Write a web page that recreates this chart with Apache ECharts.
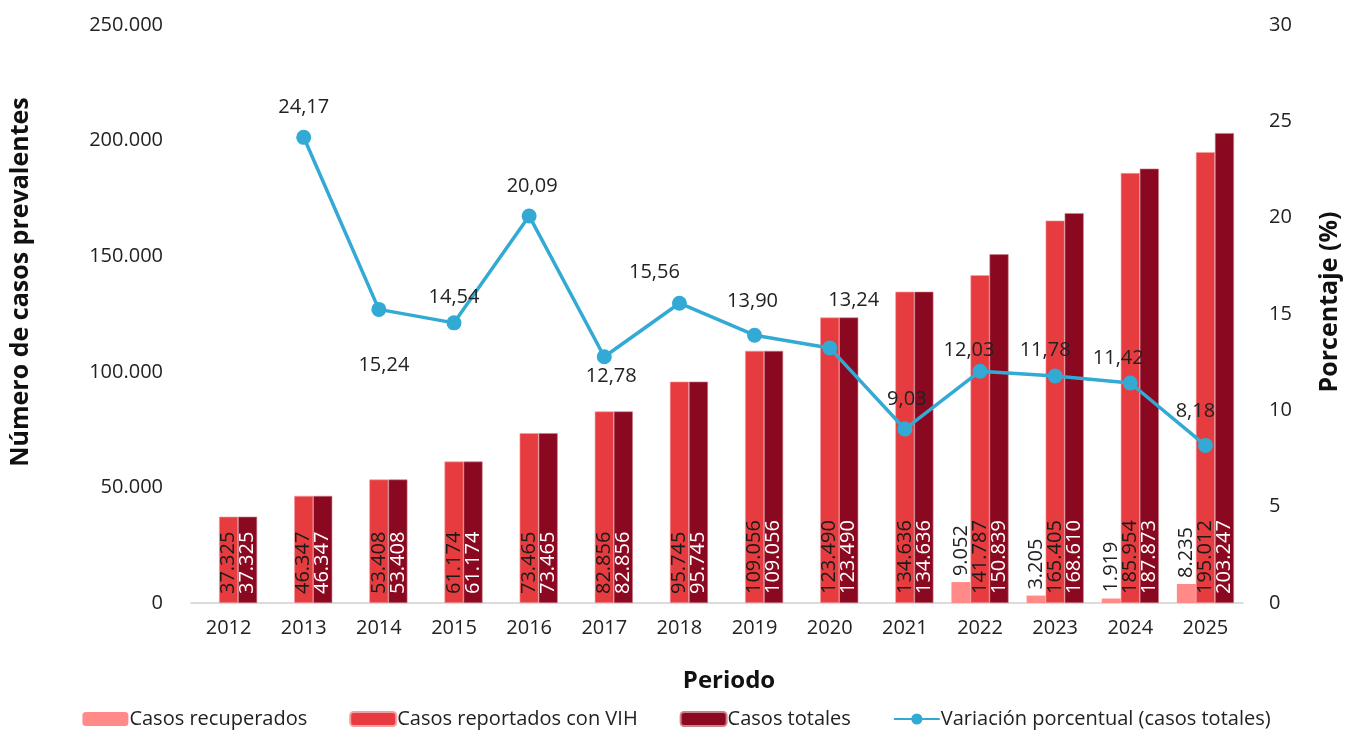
<!DOCTYPE html>
<html>
<head>
<meta charset="utf-8">
<script src="https://cdn.jsdelivr.net/npm/echarts@6/dist/echarts.min.js"></script>
<style>
  html, body { margin: 0; padding: 0; background: #fff; }
  #chart { width: 1353px; height: 734px; }
</style>
</head>
<body>
<div id="chart"></div>
<script>
  // datos
  const years = ['2012', '2013', '2014', '2015', '2016', '2017', '2018', '2019', '2020', '2021', '2022', '2023', '2024', '2025'];
  const recuperados = [null, null, null, null, null, null, null, null, null, null, 9052, 3205, 1919, 8235];
  const reportadosVIH = [37325, 46347, 53408, 61174, 73465, 82856, 95745, 109056, 123490, 134636, 141787, 165405, 185954, 195012];
  const totales = [37325, 46347, 53408, 61174, 73465, 82856, 95745, 109056, 123490, 134636, 150839, 168610, 187873, 203247];
  const variacion = [null, 24.17, 15.24, 14.54, 20.09, 12.78, 15.56, 13.90, 13.24, 9.03, 12.03, 11.78, 11.42, 8.18];

  const FONT = 'Open Sans';
  const miles = v => String(v).replace(/\B(?=(\d{3})+(?!\d))/g, '.');
  const coma = v => v.toFixed(2).replace('.', ',');

  // donde va cada etiqueta de la linea (ajuste a mano)
  const labelPos = { 2: 'bottom', 5: 'bottom' };
  const labelOffset = {
    1: [0, -3], 2: [5, 28], 3: [0, 2], 4: [3, -2], 5: [7, -8], 6: [-25, -3], 7: [-2, -6],
    8: [24, -20], 9: [2, -2], 10: [-11, 7], 11: [-10, 2], 12: [-12, 3], 13: [-10, -7]
  };

  const chart = echarts.init(document.getElementById('chart'));

  const barLabel = color => ({
    show: true,
    position: 'insideBottom',
    rotate: 90,
    align: 'left',
    verticalAlign: 'middle',
    distance: 9,
    color: color,
    fontFamily: FONT,
    fontSize: 20,
    formatter: p => miles(p.value)
  });

  chart.setOption({
    animation: false,
    textStyle: { fontFamily: FONT },
    grid: { left: 190, right: 110, top: 25, bottom: 131 },
    legend: {
      bottom: 0,
      left: 'center',
      itemGap: 42,
      itemWidth: 46,
      itemHeight: 14,
      textStyle: { fontFamily: FONT, fontSize: 20, color: '#222', padding: [0, 0, 0, -4] },
      data: ['Casos recuperados', 'Casos reportados con VIH', 'Casos totales', 'Variación porcentual (casos totales)']
    },
    xAxis: {
      type: 'category',
      data: years,
      name: 'Periodo',
      nameLocation: 'middle',
      nameGap: 66,
      nameTextStyle: { fontFamily: FONT, fontSize: 24, fontWeight: 'bold', color: '#111', padding: [0, 0, 0, 24] },
      axisLine: { lineStyle: { color: '#d0d0d0', width: 1.5 } },
      axisTick: { show: false },
      axisLabel: { color: '#222', fontSize: 20, margin: 15 }
    },
    yAxis: [
      {
        type: 'value',
        min: 0,
        max: 250000,
        interval: 50000,
        name: 'Número de casos prevalentes',
        nameLocation: 'middle',
        nameGap: 158,
        nameTextStyle: { fontFamily: FONT, fontSize: 25, fontWeight: 'bold', color: '#111', padding: [0, 0, 0, 64] },
        splitLine: { show: false },
        axisLine: { show: false },
        axisTick: { show: false },
        axisLabel: { color: '#222', fontSize: 20, margin: 28, formatter: miles }
      },
      {
        type: 'value',
        min: 0,
        max: 30,
        interval: 5,
        name: 'Porcentaje (%)',
        nameLocation: 'middle',
        nameGap: 74,
        nameTextStyle: { fontFamily: FONT, fontSize: 25, fontWeight: 'bold', color: '#111', padding: [0, 0, 0, 24] },
        splitLine: { show: false },
        axisLine: { show: false },
        axisTick: { show: false },
        axisLabel: { color: '#222', fontSize: 20, margin: 26 }
      }
    ],
    series: [
      {
        name: 'Casos recuperados',
        type: 'bar',
        data: recuperados,
        barGap: '0%',
        barCategoryGap: '24%',
        itemStyle: { color: '#FF8A87' },
        label: {
          show: true,
          position: 'top',
          rotate: 90,
          align: 'left',
          verticalAlign: 'middle',
          distance: 6,
          color: '#222',
          fontFamily: FONT,
          fontSize: 20,
          formatter: p => miles(p.value)
        }
      },
      {
        name: 'Casos reportados con VIH',
        type: 'bar',
        data: reportadosVIH,
        barGap: '0%',
        itemStyle: { color: '#E63C40', borderColor: '#F4A0A3', borderWidth: 0.6 },
        label: barLabel('#1a1a1a')
      },
      {
        name: 'Casos totales',
        type: 'bar',
        data: totales,
        barGap: '0%',
        itemStyle: { color: '#8A0820', borderColor: '#C9808C', borderWidth: 0.6 },
        label: barLabel('#ffffff')
      },
      {
        name: 'Variación porcentual (casos totales)',
        type: 'line',
        yAxisIndex: 1,
        data: variacion.map((v, i) => ({
          value: v,
          label: {
            position: labelPos[i] || 'top',
            offset: labelOffset[i] || [0, 0]
          }
        })),
        symbol: 'circle',
        symbolSize: 15,
        connectNulls: false,
        lineStyle: { color: '#33AAD4', width: 3.5 },
        itemStyle: { color: '#33AAD4' },
        label: {
          show: true,
          distance: 10,
          color: '#222',
          fontFamily: FONT,
          fontSize: 20,
          formatter: p => coma(p.value)
        },
        z: 5
      }
    ]
  });
</script>
</body>
</html>
